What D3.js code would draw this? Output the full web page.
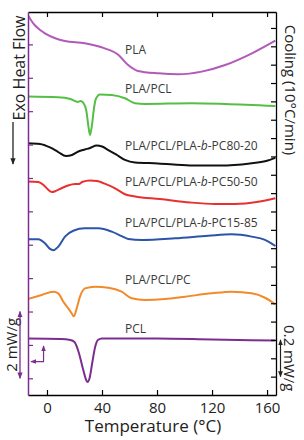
<!DOCTYPE html>
<html>
<head>
<meta charset="utf-8">
<script src="https://cdn.jsdelivr.net/npm/d3@7"></script>
<style>
  html, body { margin: 0; padding: 0; background: #fff; overflow: hidden; }
  svg { display: block; }
  text { font-family: "Open Sans", sans-serif; }
</style>
</head>
<body>
<svg id="chart" width="304" height="440"></svg>
<script>
// Temperature ticks (°C)
const xTicks = [0, 40, 80, 120, 160]

// Heat flow traces, stacked (mW/g, right-hand scale unless noted)
const tPLA  = [-14, -9, -5, -1.5, 6, 13, 27.5, 42, 52, 59, 66, 81, 95.5, 112.5, 129.5, 149, 166]
const hfPLA = [2.071, 2.016, 1.989, 1.971, 1.944, 1.929, 1.917, 1.889, 1.853, 1.798, 1.766, 1.753, 1.748, 1.762, 1.798, 1.862, 1.931]

const tPLAPCL  = [-14, 8, 17, 22.5, 24.4, 26.5, 28.5, 30, 31.3, 32.7, 34.2, 35.5, 38.5, 47, 56.7, 64, 71.3, 105, 129.5, 166]
const hfPLAPCL = [1.626, 1.622, 1.613, 1.597, 1.602, 1.591, 1.553, 1.471, 1.417, 1.471, 1.564, 1.613, 1.638, 1.635, 1.617, 1.590, 1.586, 1.590, 1.586, 1.575]

const t8020  = [-14, -5.1, 2.2, 8.2, 13.8, 18.2, 22.8, 27.6, 31.3, 36.1, 40, 44.6, 50.2, 56.7, 64, 80.7, 104, 125.8, 147.6, 159.3, 166]
const hf8020 = [1.372, 1.368, 1.349, 1.324, 1.302, 1.308, 1.327, 1.338, 1.346, 1.359, 1.354, 1.335, 1.311, 1.281, 1.267, 1.262, 1.251, 1.251, 1.262, 1.275, 1.292]

const t5050  = [-14, -6.5, -2.2, 0.7, 3.6, 6.5, 10.9, 15.3, 20.4, 23.3, 25.5, 31.3, 36.4, 41.5, 49.5, 56.7, 64, 82.2, 104, 122.2, 136.7, 153.5, 166]
const hf5050 = [1.163, 1.161, 1.142, 1.120, 1.106, 1.112, 1.128, 1.142, 1.150, 1.150, 1.161, 1.169, 1.166, 1.153, 1.126, 1.094, 1.082, 1.068, 1.049, 1.041, 1.041, 1.053, 1.072]

const t1585  = [-14, -6.3, -1.5, 2.2, 4.6, 8.2, 13.1, 19.1, 27.6, 37.3, 47.1, 54.3, 59.1, 68.9, 93.1, 117.3, 134.3, 148.9, 158.5, 166]
const hf1585 = [0.849, 0.849, 0.827, 0.796, 0.789, 0.808, 0.863, 0.895, 0.908, 0.908, 0.890, 0.866, 0.850, 0.845, 0.854, 0.868, 0.876, 0.863, 0.845, 0.812]

const tPC  = [-14, -3.9, 4.6, 8.2, 11.9, 15.5, 17.8, 19.5, 21.6, 24, 27.6, 34.9, 44.6, 54.3, 61.6, 71.3, 85.8, 100.4, 119.8, 134.3, 148.9, 158.5, 166]
const hfPC = [0.523, 0.545, 0.563, 0.554, 0.508, 0.472, 0.447, 0.428, 0.472, 0.536, 0.581, 0.590, 0.585, 0.563, 0.527, 0.518, 0.523, 0.536, 0.554, 0.563, 0.554, 0.530, 0.494]

// PCL is read against the left-hand (2 mW/g) scale
const tPCL  = [-14, 10, 17, 20, 23, 26, 28.5, 29.5, 31, 33, 35, 37, 40, 80, 120, 166]
const hfPCL = [1.192, 1.177, 1.147, 1.087, 0.787, 0.308, -0.051, -0.111, 0.009, 0.488, 0.937, 1.147, 1.192, 1.192, 1.162, 1.132]

const series = [
  { name: "PLA",     t: tPLA,    hf: hfPLA,    color: "#b25ab8", axis: "right", labelHf: 1.857 },
  { name: "PLA/PCL", t: tPLAPCL, hf: hfPLAPCL, color: "#55bf45", axis: "right", labelHf: 1.647 },
  { name: "PC80-20", t: t8020,   hf: hf8020,   color: "#111111", axis: "right", labelHf: 1.335, block: true },
  { name: "PC50-50", t: t5050,   hf: hf5050,   color: "#e8302f", axis: "right", labelHf: 1.139, block: true },
  { name: "PC15-85", t: t1585,   hf: hf1585,   color: "#2c54a8", axis: "right", labelHf: 0.916, block: true },
  { name: "PLA/PCL/PC", t: tPC,  hf: hfPC,     color: "#f28a2a", axis: "right", labelHf: 0.603 },
  { name: "PCL",     t: tPCL,    hf: hfPCL,    color: "#7b2d90", axis: "left",  labelHf: 0.340 }
]

const width = 304, height = 440
const margin = { top: 12, right: 28, bottom: 45, left: 28 }
const innerWidth = width - margin.left - margin.right
const innerHeight = height - margin.top - margin.bottom
const pclColor = "#7b2d90"

const svg = d3.select("#chart")
const defs = svg.append("defs")
function addMarker(id, color) {
  defs.append("marker")
    .attr("id", id)
    .attr("viewBox", "0 0 10 10")
    .attr("refX", 9).attr("refY", 5)
    .attr("markerWidth", 5).attr("markerHeight", 5)
    .attr("orient", "auto-start-reverse")
    .append("path")
    .attr("d", "M0,1 L10,5 L0,9 z")
    .attr("fill", color)
}
addMarker("arrowK", "#222")
addMarker("arrowP", pclColor)

const chart = svg.append("g").attr("transform", `translate(${margin.left},${margin.top})`)

const x = d3.scaleLinear().domain([-13.8, 166.5]).range([0, innerWidth])
const yR = d3.scaleLinear().domain([0, 2.087]).range([innerHeight, 0])
const yL = d3.scaleLinear().domain([-0.5, 10.97]).range([innerHeight, 0])

// Curves
defs.append("clipPath").attr("id", "clip")
  .append("rect").attr("width", innerWidth).attr("height", innerHeight)

series.forEach(s => {
  const y = s.axis === "left" ? yL : yR
  const line = d3.line()
    .x((d, i) => x(s.t[i]))
    .y((d, i) => y(s.hf[i]))
    .curve(d3.curveMonotoneX)
  chart.append("path")
    .datum(s.t)
    .attr("clip-path", "url(#clip)")
    .attr("fill", "none")
    .attr("stroke", s.color)
    .attr("stroke-width", 2)
    .attr("stroke-linejoin", "round")
    .attr("d", line)
})

// Curve labels
const labelT = 56.7
series.forEach(s => {
  const t = chart.append("text")
    .attr("x", x(labelT))
    .attr("y", yR(s.labelHf))
    .style("font-size", "12px")
    .style("fill", "#3a3a3a")
  if (s.block) {
    t.append("tspan").text("PLA/PCL/PLA-")
    t.append("tspan").style("font-style", "italic").text("b")
    t.append("tspan").text("-" + s.name)
  } else {
    t.text(s.name)
  }
})

// Axes
const bottomAxis = d3.axisBottom(x).tickValues(xTicks).tickSizeInner(-5).tickSizeOuter(0).tickPadding(7)
const gb = chart.append("g").attr("transform", `translate(0,${innerHeight})`).call(bottomAxis)
gb.selectAll("text").style("font-size", "15px").style("fill", "#222").style("font-family", "Open Sans")

const gt = chart.append("g").call(d3.axisTop(x).tickValues(xTicks).tickSizeInner(-5).tickSizeOuter(0))
gt.selectAll("text").remove()

const gr = chart.append("g").attr("transform", `translate(${innerWidth},0)`)
  .call(d3.axisRight(yR).tickValues(d3.range(0.1, 2.05, 0.1)).tickSizeInner(-5).tickSizeOuter(0))
gr.selectAll("text").remove()

const gl = chart.append("g")
  .call(d3.axisLeft(yL).tickValues(d3.range(0, 11)).tickSizeInner(-5).tickSizeOuter(0))
gl.selectAll("text").remove()
gl.selectAll("line, path").attr("stroke", pclColor)

chart.selectAll(".domain").attr("stroke-width", 1.3)
gl.select(".domain").attr("stroke-width", 1.5)
chart.selectAll(".tick line").attr("stroke-width", 1.2)

// Axis titles
svg.append("text")
  .attr("x", width / 2 + 1)
  .attr("y", 432)
  .attr("text-anchor", "middle")
  .style("font-size", "17px")
  .style("fill", "#222")
  .text("Temperature (°C)")

svg.append("text")
  .attr("transform", "translate(25,68) rotate(-90)")
  .attr("text-anchor", "middle")
  .style("font-size", "16px")
  .style("fill", "#222")
  .text("Exo Heat Flow")

svg.append("line")
  .attr("x1", 13).attr("x2", 13)
  .attr("y1", 122).attr("y2", 164)
  .attr("stroke", "#222").attr("stroke-width", 1.3)
  .attr("marker-end", "url(#arrowK)")

svg.append("text")
  .attr("transform", "translate(285,90) rotate(90)")
  .attr("text-anchor", "middle")
  .style("font-size", "15px")
  .style("fill", "#222")
  .text("Cooling (10°C/min)")

// Scale bars
svg.append("text")
  .attr("transform", `translate(17,${margin.top + yL(1)}) rotate(-90)`)
  .attr("text-anchor", "middle")
  .style("font-size", "15px")
  .style("fill", "#222")
  .text("2 mW/g")

svg.append("line")
  .attr("x1", 20).attr("x2", 20)
  .attr("y1", margin.top + yL(0)).attr("y2", margin.top + yL(2))
  .attr("stroke", pclColor).attr("stroke-width", 1.3)
  .attr("marker-start", "url(#arrowP)").attr("marker-end", "url(#arrowP)")

svg.append("text")
  .attr("transform", `translate(284,${margin.top + yR(0.2)}) rotate(90)`)
  .attr("text-anchor", "middle")
  .style("font-size", "15px")
  .style("fill", "#222")
  .text("0.2 mW/g")

svg.append("line")
  .attr("x1", 280.5).attr("x2", 280.5)
  .attr("y1", margin.top + yR(0.3)).attr("y2", margin.top + yR(0.1))
  .attr("stroke", "#222").attr("stroke-width", 1.2)
  .attr("marker-start", "url(#arrowK)").attr("marker-end", "url(#arrowK)")

// Little L-arrow pointing PCL to the left-hand scale
chart.append("path")
  .attr("d", `M${x(-13.8) + 3},${yL(0.5)} H${x(-2.5)} V${yL(0.97)}`)
  .attr("fill", "none")
  .attr("stroke", pclColor).attr("stroke-width", 1.2)
  .attr("marker-start", "url(#arrowP)").attr("marker-end", "url(#arrowP)")
</script>
</body>
</html>
